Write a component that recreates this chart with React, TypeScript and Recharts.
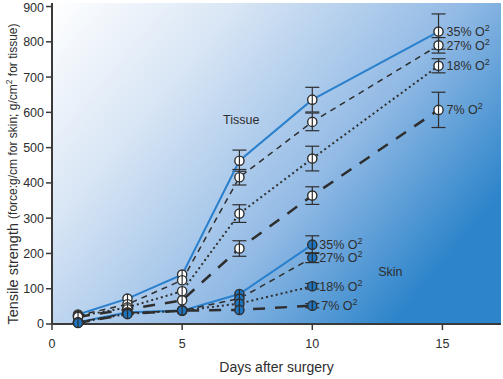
import React from "react";
import {
  LineChart,
  Line,
  XAxis,
  YAxis,
  CartesianGrid,
  ErrorBar,
  ReferenceDot,
} from "recharts";

// days
const tissueDays = [1, 2.9, 5, 7.2, 10, 14.85];
const skinDays = [1, 2.9, 5, 7.2, 10];

const tissue35 = [27, 72, 140, 463, 636, 829];
const tissue27 = [24, 56, 124, 416, 573, 790];
const tissue18 = [22, 47, 93, 313, 469, 732];
const tissue7 = [20, 42, 67, 214, 364, 607];
const tissue35Err = [0, 0, 0, 30, 35, 50];
const tissue27Err = [0, 0, 0, 22, 25, 22];
const tissue18Err = [0, 0, 0, 25, 35, 20];
const tissue7Err = [0, 0, 0, 22, 25, 50];

const skin35 = [5, 33, 38, 85, 225];
const skin27 = [5, 31, 38, 72, 188];
const skin18 = [4, 29, 38, 58, 107];
const skin7 = [3, 28, 38, 40, 52];
const skin35Err = [0, 0, 0, 0, 25];
const skin27Err = [0, 0, 0, 0, 14];
const skin18Err = [0, 0, 0, 0, 8];
const skin7Err = [0, 0, 0, 0, 6];

const oxygenLabels = ["35%", "27%", "18%", "7%"];
const xTicks = [0, 5, 10, 15];
const yTicks = [0, 100, 200, 300, 400, 500, 600, 700, 800, 900];

const INK = "#2e2e2e";
const BLUE = "#2a80cc";
const FONT = "Liberation Sans, Arial, sans-serif";

const toRows = (days: number[], vals: number[], errs: number[]) =>
  days.map((d, i) => ({ day: d, v: vals[i], e: errs[i] }));

const styles = [
  { stroke: BLUE, width: 2, dash: undefined },
  { stroke: INK, width: 1.5, dash: "6 5" },
  { stroke: INK, width: 2, dash: "2 3" },
  { stroke: INK, width: 2.5, dash: "12 10" },
];

const tissueSeries = [
  toRows(tissueDays, tissue35, tissue35Err),
  toRows(tissueDays, tissue27, tissue27Err),
  toRows(tissueDays, tissue18, tissue18Err),
  toRows(tissueDays, tissue7, tissue7Err),
];
const skinSeries = [
  toRows(skinDays, skin35, skin35Err),
  toRows(skinDays, skin27, skin27Err),
  toRows(skinDays, skin18, skin18Err),
  toRows(skinDays, skin7, skin7Err),
];

const makeDot = (fill: string) => (props: any) => {
  const { cx, cy, index } = props;
  if (cx == null || cy == null) return <g key={index} />;
  return (
    <g key={index}>
      <circle cx={cx} cy={cy} r={4.6} fill={fill} stroke={INK} strokeWidth={1.4} />
      <line x1={cx} y1={cy - 4.6} x2={cx} y2={cy + 4.6} stroke={INK} strokeWidth={1.2} />
    </g>
  );
};

const makeEndLabel = (text: string, last: number, dx: number) => (props: any) => {
  const { x, y, index } = props;
  if (index !== last) return null;
  return (
    <text key={index} x={x + dx} y={y + 4.5} fontSize={12.5} fill={INK} fontFamily={FONT}>
      {text} O
      <tspan dy={-5} fontSize={9}>
        2
      </tspan>
    </text>
  );
};

const YTitle = () => (
  <text
    transform="translate(13,174) rotate(-90)"
    textAnchor="middle"
    dominantBaseline="central"
    fill={INK}
    fontFamily={FONT}
  >
    <tspan fontSize={14.5}>Tensile strength </tspan>
    <tspan fontSize={12}>(force:g/cm for skin; g/cm</tspan>
    <tspan fontSize={8.5} dy={-4}>
      2
    </tspan>
    <tspan fontSize={12} dy={4}>
      {" "}for tissue)
    </tspan>
  </text>
);

export default function App() {
  return (
    <div style={{ position: "absolute", left: 0, top: 0 }}>
      <svg width={0} height={0} style={{ position: "absolute" }}>
        <defs>
          <linearGradient id="bgGrad" x1="0" y1="0" x2="1" y2="0.6">
            <stop offset="0%" stopColor="#ffffff" />
            <stop offset="30%" stopColor="#d9e6f5" />
            <stop offset="68%" stopColor="#92bae5" />
            <stop offset="100%" stopColor="#2c84ca" />
          </linearGradient>
        </defs>
      </svg>
      <LineChart
        width={503}
        height={379}
        margin={{ top: 3, right: 2, left: 0, bottom: 0 }}
        style={{ fontFamily: FONT }}
      >
        <CartesianGrid horizontal={false} vertical={false} fill="url(#bgGrad)" stroke="none" />
        <XAxis
          type="number"
          dataKey="day"
          domain={[0, 17.25]}
          ticks={xTicks}
          height={55}
          tickSize={6}
          tickMargin={9}
          tick={{ fontSize: 12.5, fill: INK }}
          axisLine={{ stroke: "#3a3a3a", strokeWidth: 2 }}
          tickLine={{ stroke: "#3a3a3a", strokeWidth: 1.5 }}
          allowDuplicatedCategory={false}
          label={{
            value: "Days after surgery",
            position: "insideBottom",
            offset: 7,
            fontSize: 14,
            fill: INK,
          }}
        />
        <YAxis
          type="number"
          domain={[0, 910]}
          ticks={yTicks}
          width={52}
          tickSize={6}
          tickMargin={2}
          tick={{ fontSize: 12.5, fill: INK }}
          axisLine={{ stroke: "#3a3a3a", strokeWidth: 2 }}
          tickLine={{ stroke: "#3a3a3a", strokeWidth: 1.5 }}
          label={{ content: () => <YTitle /> }}
        />
        {tissueSeries.map((rows, k) => (
          <Line
            key={"t" + k}
            data={rows}
            dataKey="v"
            type="linear"
            stroke={styles[k].stroke}
            strokeWidth={styles[k].width}
            strokeDasharray={styles[k].dash}
            dot={makeDot("#ffffff")}
            activeDot={false}
            isAnimationActive={false}
            label={makeEndLabel(oxygenLabels[k], rows.length - 1, 8)}
          >
            <ErrorBar dataKey="e" width={7} stroke={INK} strokeWidth={1.2} direction="y" />
          </Line>
        ))}
        {skinSeries.map((rows, k) => (
          <Line
            key={"s" + k}
            data={rows}
            dataKey="v"
            type="linear"
            stroke={styles[k].stroke}
            strokeWidth={styles[k].width}
            strokeDasharray={styles[k].dash}
            dot={makeDot("#1f74bf")}
            activeDot={false}
            isAnimationActive={false}
            label={makeEndLabel(oxygenLabels[k], rows.length - 1, k === 3 ? 9 : 7)}
          >
            <ErrorBar dataKey="e" width={7} stroke={INK} strokeWidth={1.2} direction="y" />
          </Line>
        ))}
        <ReferenceDot
          x={7.27}
          y={580}
          r={0}
          stroke="none"
          fill="none"
          ifOverflow="visible"
          label={{ value: "Tissue", position: "center", fontSize: 12.5, fill: INK }}
        />
        <ReferenceDot
          x={13}
          y={148}
          r={0}
          stroke="none"
          fill="none"
          ifOverflow="visible"
          label={{ value: "Skin", position: "center", fontSize: 12.5, fill: INK }}
        />
      </LineChart>
    </div>
  );
}
